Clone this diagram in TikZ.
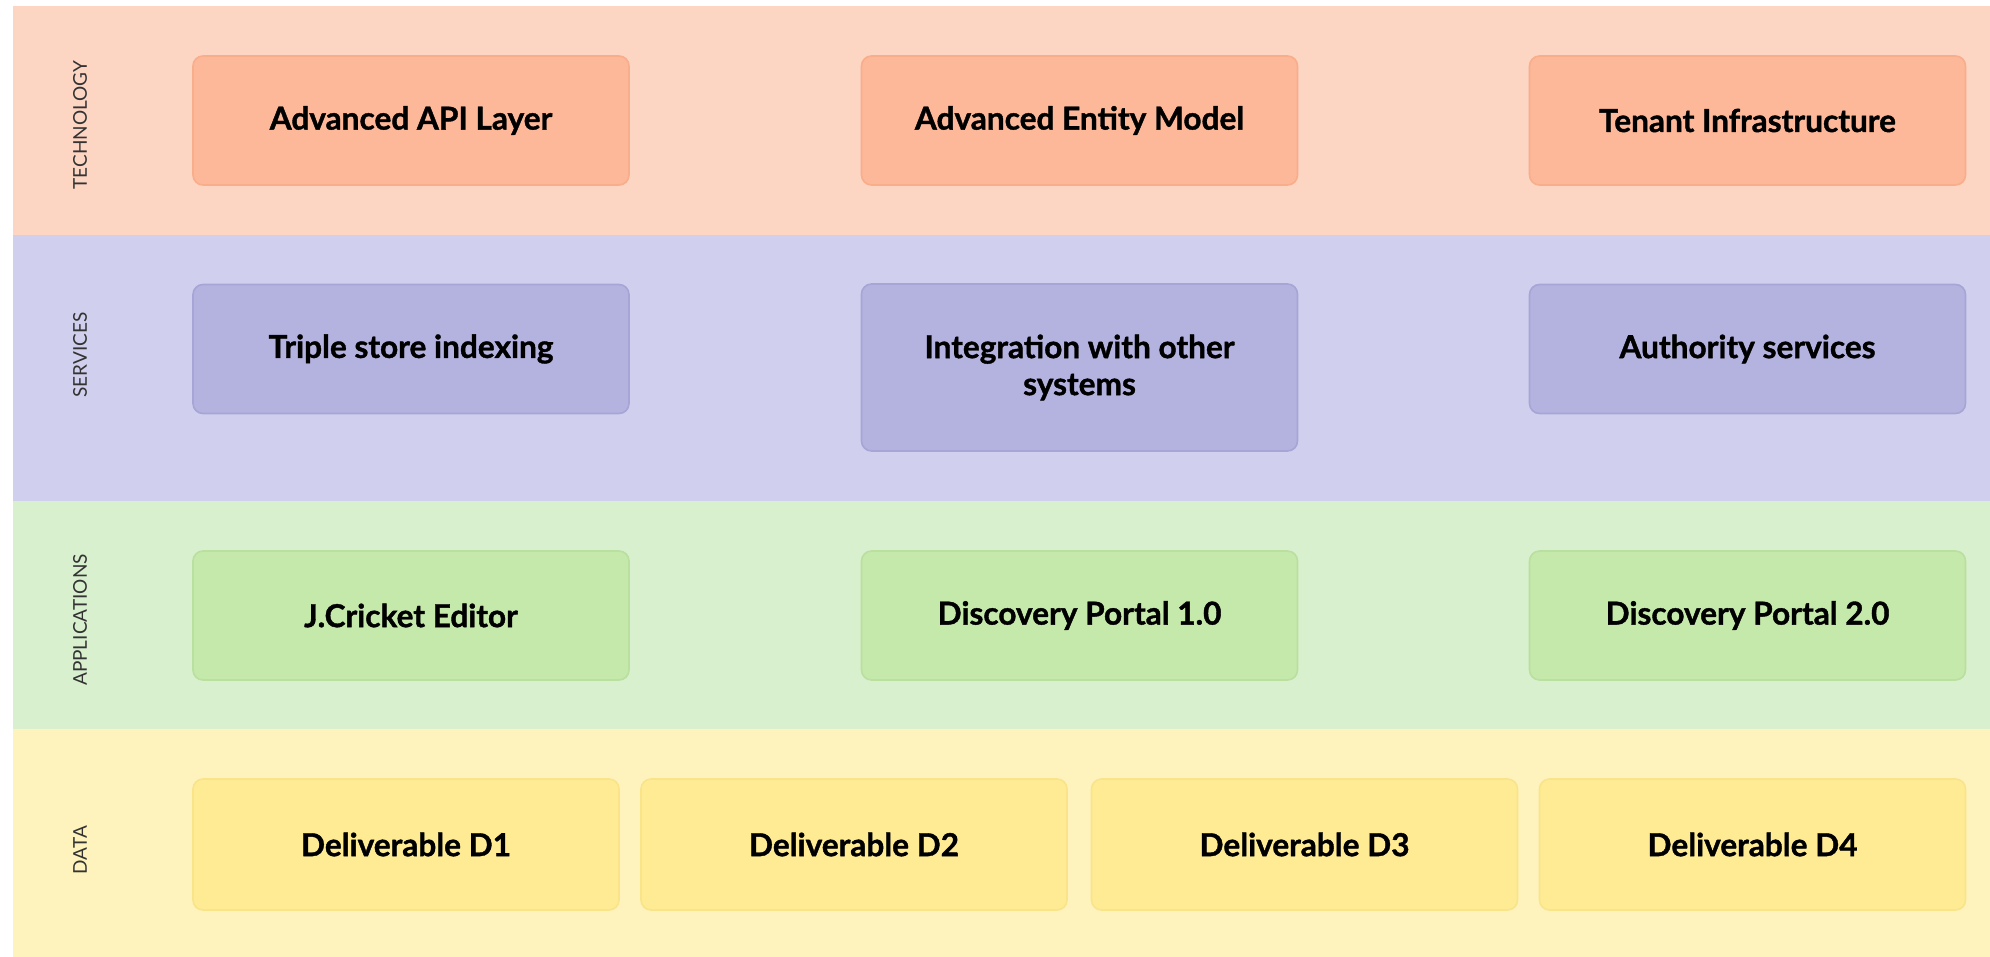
\documentclass[tikz,border=0pt]{standalone}
\usepackage{fontspec}
\setmainfont{Lato}[BoldFeatures={FakeBold=1.2}]
\usetikzlibrary{positioning}

\definecolor{techband}{HTML}{FDD5C3}
\definecolor{techbox}{HTML}{FDB899}
\definecolor{techline}{HTML}{F8AD8B}
\definecolor{servband}{HTML}{D0D0EE}
\definecolor{servbox}{HTML}{B4B2DF}
\definecolor{servline}{HTML}{A7A4D6}
\definecolor{appband}{HTML}{D9F0CF}
\definecolor{appbox}{HTML}{C5E8AB}
\definecolor{appline}{HTML}{B9E09E}
\definecolor{databand}{HTML}{FEF3BD}
\definecolor{databox}{HTML}{FEEB94}
\definecolor{dataline}{HTML}{FAE489}

\tikzset{
	layer/.style={rotate=90, inner sep=0pt, text=black!80, font=\fontsize{9.5}{11}\selectfont},
	block/.style={rounded corners=5pt, inner sep=0pt, line width=0.8pt, minimum width=218pt, minimum height=64.5pt, align=center, text=black, font=\fontsize{15.8}{18.5}\selectfont\bfseries},
	techblock/.style={block, fill=techbox, draw=techline},
	servblock/.style={block, fill=servbox, draw=servline},
	appblock/.style={block, fill=appbox, draw=appline},
	datablock/.style={block, fill=databox, draw=dataline, minimum width=213pt, minimum height=65.5pt}
}

\begin{document}
\begin{tikzpicture}[x=0.5pt, y=-0.5pt]
		%%%%% START %%%%%
		\useasboundingbox (0, 0) rectangle (1990, 957);
		
		% bands
		\fill[techband] (13, 6) rectangle (1990, 235);
		\fill[servband] (13, 235) rectangle (1990, 501);
		\fill[appband] (13, 501) rectangle (1990, 729);
		\fill[databand] (13, 729) rectangle (1990, 957);
		
		\node[layer] (techlabel) at (80, 125) {TECHNOLOGY};
		\node[layer] (servlabel) at (80, 355) {SERVICES};
		\node[layer] (applabel) at (80, 620) {APPLICATIONS};
		\node[layer] (datalabel) at (80, 850) {DATA};
		
		% technology
		\node[techblock] (api) at (411, 120.5) {Advanced API Layer};
		\node[techblock] (entity) at (1079.5, 120.5) {Advanced Entity Model};
		\node[techblock] (tenant) at (1747.5, 120.5) {Tenant Infrastructure};
		
		% services
		\node[servblock] (triple) at (411, 349) {Triple store indexing};
		\node[servblock, minimum height=83.5pt] (integration) at (1079.5, 367.5) {Integration with other\\systems};
		\node[servblock] (authority) at (1747.5, 349) {Authority services};
		
		% applications
		\node[appblock] (editor) at (411, 615.5) {J.Cricket Editor};
		\node[appblock] (portalone) at (1079.5, 615.5) {Discovery Portal 1.0};
		\node[appblock] (portaltwo) at (1747.5, 615.5) {Discovery Portal 2.0};
		
		% data
		\node[datablock] (done) at (406, 844.5) {Deliverable D1};
		\node[datablock] (dtwo) at (854, 844.5) {Deliverable D2};
		\node[datablock] (dthree) at (1304.5, 844.5) {Deliverable D3};
		\node[datablock] (dfour) at (1752.5, 844.5) {Deliverable D4};
		
		%%%%% END %%%%%
	\end{tikzpicture}
\end{document}
